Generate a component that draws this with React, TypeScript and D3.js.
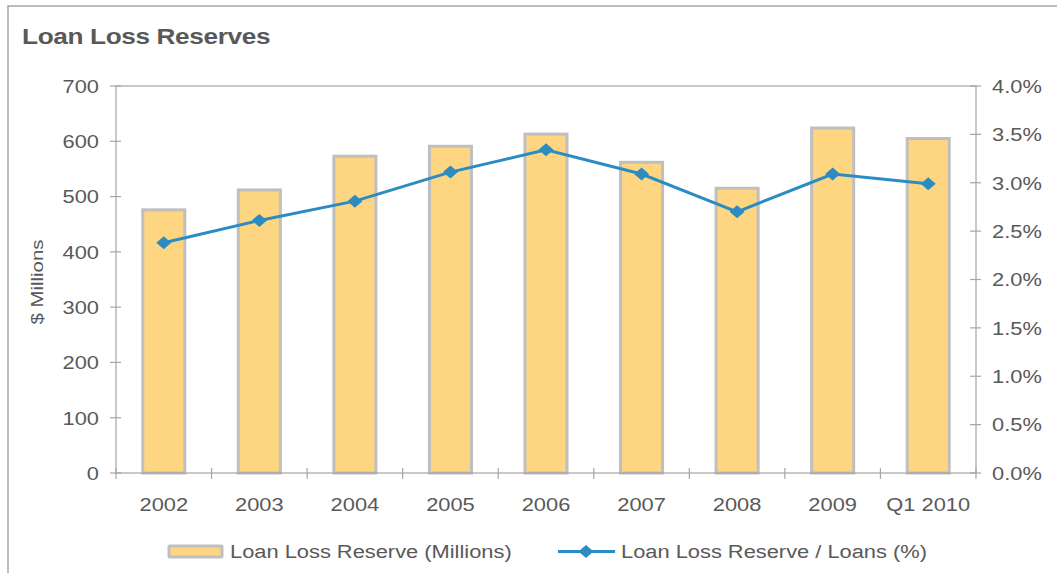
import React from "react";
import * as d3 from "d3";

const categories = ["2002", "2003", "2004", "2005", "2006", "2007", "2008", "2009", "Q1 2010"];
const reserveMillions = [476, 512, 573, 591, 613, 562, 515, 624, 605];
const reserveRatioPct = [2.38, 2.61, 2.81, 3.11, 3.34, 3.09, 2.70, 3.09, 2.99];
const leftTicks = [0, 100, 200, 300, 400, 500, 600, 700];
const rightTicks = [0, 0.5, 1.0, 1.5, 2.0, 2.5, 3.0, 3.5, 4.0];

const W = 1057;
const H = 573;
const plot = { left: 116, right: 976, top: 86, bottom: 473 };
const textColor = "#595959";
const axisColor = "#a6a6a6";
const barFill = "#FED681";
const barStroke = "#BFBFBF";
const lineColor = "#2B8CC4";
const font = "Arial, 'Liberation Sans', sans-serif";
const SX = 1.15;

function T({ x, y, anchor = "start", size = 19, weight = "normal", sx = SX, ls = 0, children }: any) {
  return (
    <text transform={`translate(${x},${y}) scale(${sx},1)`} textAnchor={anchor} fontSize={size}
      fontWeight={weight} fill={textColor} letterSpacing={ls}>{children}</text>
  );
}

export default function App() {
  const x = d3.scaleBand<string>().domain(categories).range([plot.left, plot.right]).paddingInner(0.56).paddingOuter(0.28);
  const yL = d3.scaleLinear().domain([0, 700]).range([plot.bottom, plot.top]);
  const yR = d3.scaleLinear().domain([0, 4]).range([plot.bottom, plot.top]);
  const step = (plot.right - plot.left) / categories.length;
  const cx = (c: string) => (x(c) as number) + x.bandwidth() / 2;
  const line = d3.line<number>().x((_, i) => cx(categories[i])).y((d) => yR(d));
  const diamond = (px: number, py: number, rx = 7.5, ry = 6.5) => `M${px},${py - ry}L${px + rx},${py}L${px},${py + ry}L${px - rx},${py}Z`;

  return (
    <svg width={W} height={H} style={{ position: "absolute", left: 0, top: 0, fontFamily: font }}>
      <rect x={0} y={0} width={W} height={H} fill="#fff" />
      <path d={`M8,${H}V6H${W}`} fill="none" stroke={axisColor} strokeWidth={1.5} />
      <T x={22} y={44} size={22} weight="bold" ls={-0.3} sx={1.19}>Loan Loss Reserves</T>

      {/* bars */}
      {reserveMillions.map((v, i) => (
        <rect key={i} x={x(categories[i])} y={yL(v)} width={x.bandwidth()} height={plot.bottom - yL(v)}
          fill={barFill} stroke={barStroke} strokeWidth={3} />
      ))}

      {/* plot frame */}
      <rect x={plot.left} y={plot.top} width={plot.right - plot.left} height={plot.bottom - plot.top} fill="none" stroke={axisColor} strokeWidth={1.2} />

      {/* left axis */}
      {leftTicks.map((t) => (
        <g key={t}>
          <line x1={plot.left - 6} x2={plot.left + 5} y1={yL(t)} y2={yL(t)} stroke={axisColor} strokeWidth={1.2} />
          <T x={plot.left - 17} y={yL(t) + 6.8} anchor="end">{t}</T>
        </g>
      ))}
      {/* right axis */}
      {rightTicks.map((t) => (
        <g key={t}>
          <line x1={plot.right - 6} x2={plot.right + 5} y1={yR(t)} y2={yR(t)} stroke={axisColor} strokeWidth={1.2} />
          <T x={plot.right + 16} y={yR(t) + 6.8}>{t.toFixed(1)}%</T>
        </g>
      ))}
      {/* x axis ticks */}
      {d3.range(categories.length + 1).map((i) => (
        <line key={i} x1={plot.left + i * step} x2={plot.left + i * step} y1={plot.bottom - 5} y2={plot.bottom + 6} stroke={axisColor} strokeWidth={1.2} />
      ))}
      {categories.map((c) => (
        <T key={c} x={cx(c)} y={511} anchor="middle">{c}</T>
      ))}

      <text transform={`translate(43,282) rotate(-90)`} textAnchor="middle" fontSize={17} fill={textColor}
        textLength={85} lengthAdjust="spacingAndGlyphs">$ Millions</text>

      {/* line series */}
      <path d={line(reserveRatioPct) as string} fill="none" stroke={lineColor} strokeWidth={3} />
      {reserveRatioPct.map((v, i) => (
        <path key={i} d={diamond(cx(categories[i]), yR(v))} fill={lineColor} />
      ))}

      {/* legend */}
      <rect x={169} y={546} width={53} height={11} fill={barFill} stroke={barStroke} strokeWidth={3} rx={1} />
      <T x={230} y={558}>Loan Loss Reserve (Millions)</T>
      <line x1={558} x2={615} y1={551.5} y2={551.5} stroke={lineColor} strokeWidth={3} />
      <path d={diamond(586, 551.5)} fill={lineColor} />
      <T x={621} y={558}>Loan Loss Reserve / Loans (%)</T>
    </svg>
  );
}
